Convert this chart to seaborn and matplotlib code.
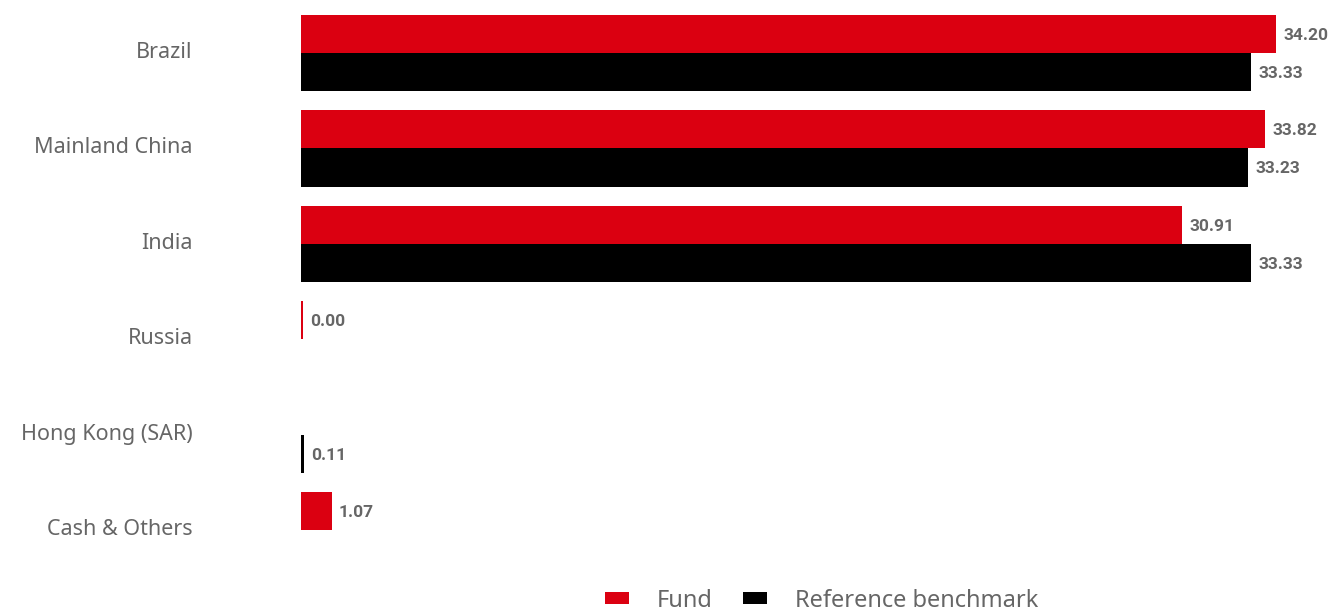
import numpy as np
import pandas as pd
import matplotlib
matplotlib.use("Agg")
import matplotlib.pyplot as plt
import matplotlib.transforms as mtrans
import seaborn as sns
from matplotlib.patches import Patch

categories = ["Brazil", "Mainland China", "India", "Russia", "Hong Kong (SAR)", "Cash & Others"]
fund = [34.20, 33.82, 30.91, 0.00, np.nan, 1.07]
benchmark = [33.33, 33.23, 33.33, np.nan, 0.11, np.nan]
series_names = ["Fund", "Reference benchmark"]
colors = ["#DB0011", "#000000"]

sns.set_theme(style="white")
plt.rcParams["font.family"] = ["Noto Sans", "DejaVu Sans"]

df = pd.DataFrame({
    "Category": categories * 2,
    "Value": fund + benchmark,
    "Series": [series_names[0]] * len(categories) + [series_names[1]] * len(categories),
})

fig = plt.figure(figsize=(13.32, 6.11), dpi=100)
ax = fig.add_axes([301 / 1332, 33.3 / 611, 1 - 301 / 1332, 572.4 / 611])

sns.barplot(data=df, y="Category", x="Value", hue="Series", orient="h",
            palette=colors, hue_order=series_names, order=categories,
            width=0.8, linewidth=0, saturation=1, ax=ax, legend=False, errorbar=None)

grey = "#666666"
for container, vals in zip(ax.containers, [fund, benchmark]):
    for patch in container.patches:
        yc = patch.get_y() + patch.get_height() / 2
        idx = int(round(yc))
        v = vals[idx]
        if np.isnan(v):
            continue
        if patch.get_width() < 0.07:
            patch.set_width(0.07)
        ax.annotate(f"{v:.2f}", xy=(patch.get_width(), yc), xytext=(5, -1),
                    textcoords="offset points", va="center", ha="left",
                    fontsize=12.5, fontweight="bold", color=grey,
                    family=["Roboto", "DejaVu Sans"])

ax.set_xlim(0, 36.16)
ax.set_ylim(5.5, -0.5)
ax.set_xlabel("")
ax.set_ylabel("")
ax.set_xticks([])
for s in ax.spines.values():
    s.set_visible(False)
ax.tick_params(axis="y", length=0, pad=78, labelsize=15.5, labelcolor=grey)
shift = mtrans.ScaledTranslation(0, 3 / 100, fig.dpi_scale_trans)
for lab in ax.get_yticklabels():
    lab.set_transform(lab.get_transform() + shift)

handles = [Patch(facecolor=c, edgecolor="none") for c in colors]
fig.legend(handles, series_names, loc="center", bbox_to_anchor=(0.617, 0.017),
           ncol=2, frameon=False, fontsize=17, labelcolor=grey,
           handlelength=1.0, handleheight=0.42, handletextpad=1.2, columnspacing=1.3)

fig.savefig("out.png", dpi=100)
